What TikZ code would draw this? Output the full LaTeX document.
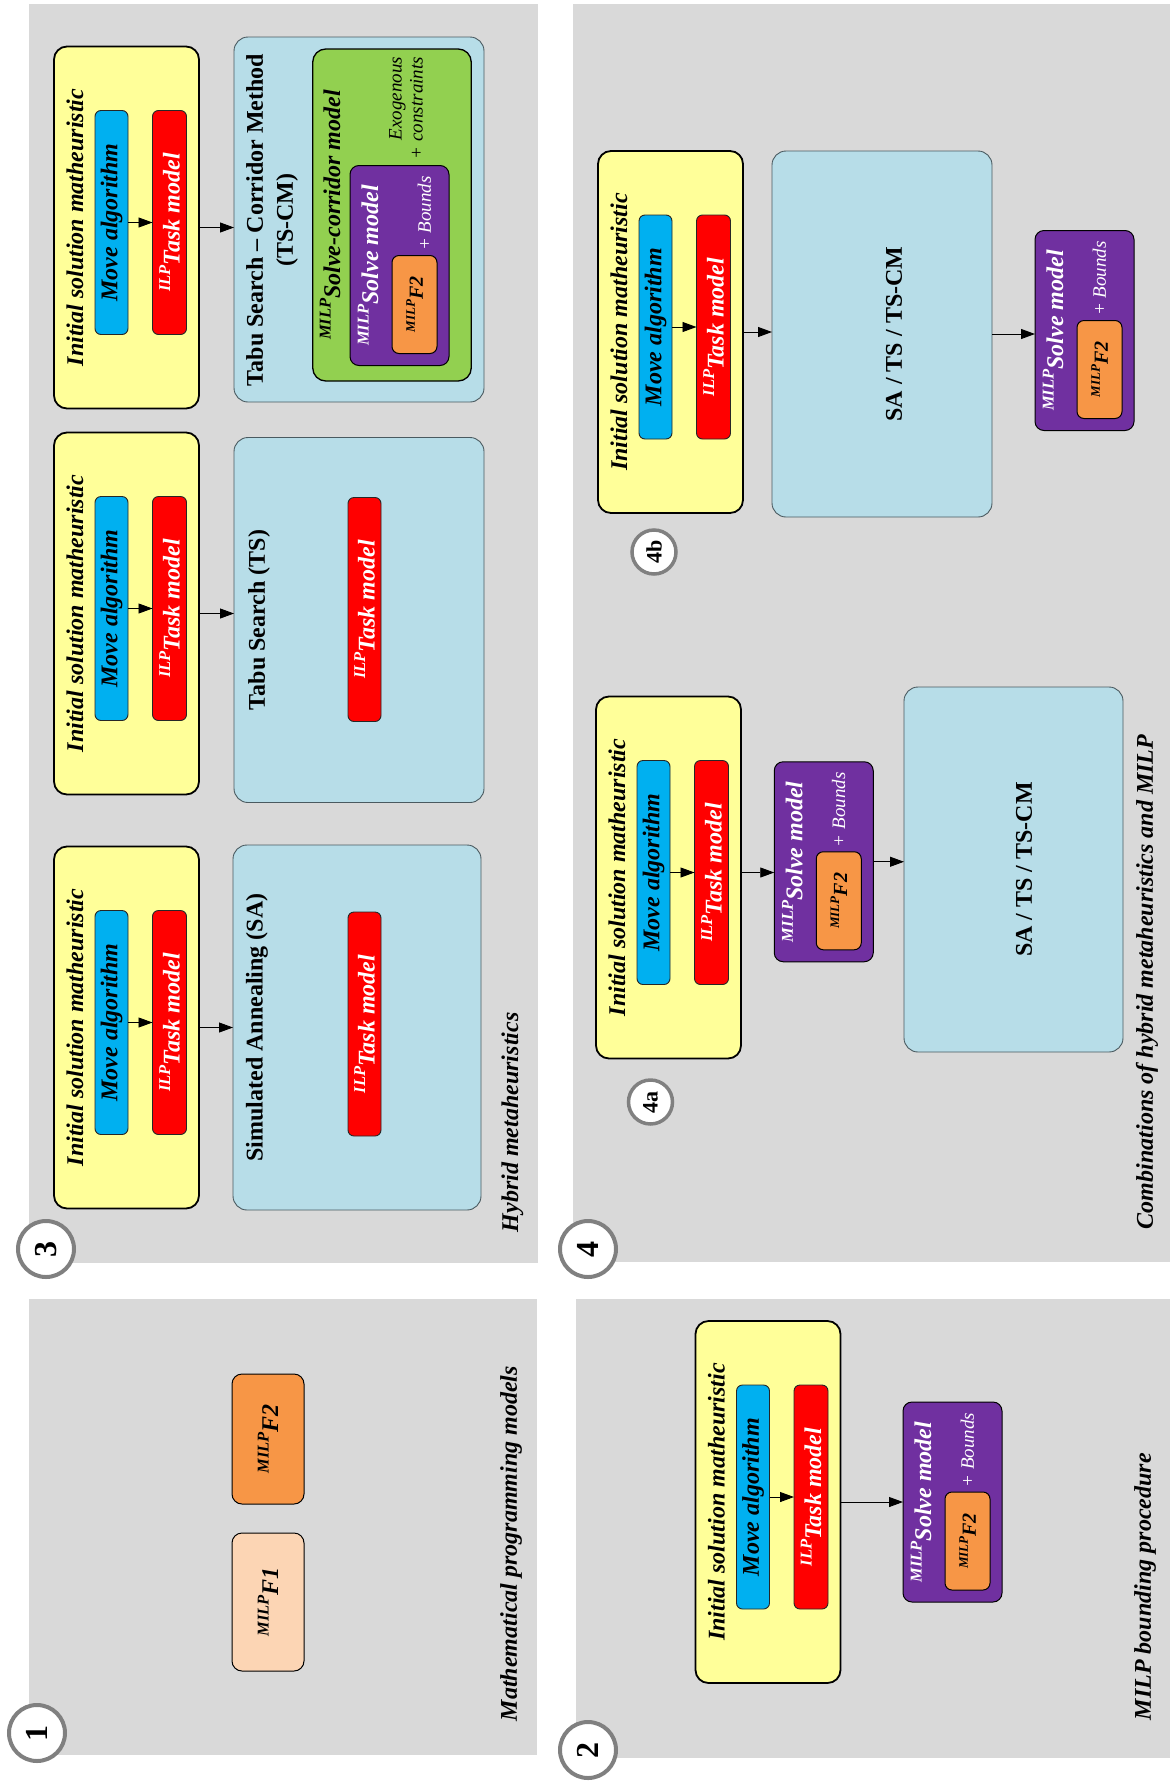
\documentclass[tikz,border=0pt]{standalone}
\usepackage{fontspec}
\setmainfont{Liberation Serif}
\usetikzlibrary{arrows.meta}

\definecolor{panelgray}{HTML}{D9D9D9}
\definecolor{boxyellow}{HTML}{FFFF99}
\definecolor{boxblue}{HTML}{00B0F0}
\definecolor{boxred}{HTML}{FF0000}
\definecolor{boxcyan}{HTML}{B7DDE8}
\definecolor{boxgreen}{HTML}{92D050}
\definecolor{boxpurple}{HTML}{7030A0}
\definecolor{boxorange}{HTML}{F79646}
\definecolor{boxpeach}{HTML}{FCD5B4}
\definecolor{ringgray}{HTML}{808080}
\definecolor{cyanedge}{HTML}{4A5A60}

% raised model-type prefixes (ILP, MILP)
\newcommand{\bigsup}[1]{\raisebox{9.5pt}{\fontsize{16.5}{16.5}\selectfont #1}}
\newcommand{\smallsup}[1]{\raisebox{8pt}{\fontsize{13}{13}\selectfont #1}}

\tikzset{
  turned/.style={rotate=90, inner sep=0pt, outer sep=0pt},
  dims/.style 2 args={minimum height=#1, minimum width=#2},
  panel/.style={fill=panelgray, draw=none, inner sep=0pt, outer sep=0pt, anchor=north west},
  bifont/.style={font=\fontsize{24}{28}\selectfont\bfseries\itshape},
  ybox/.style={turned, draw=black, line width=1.8pt, fill=boxyellow, rounded corners=13pt},
  bbox/.style={turned, bifont, draw=black!85, line width=0.9pt, fill=boxblue, rounded corners=6pt},
  rbox/.style={turned, bifont, text=white, draw=black!85, line width=0.9pt, fill=boxred, rounded corners=6pt},
  cbox/.style={turned, draw=cyanedge, line width=0.9pt, fill=boxcyan, rounded corners=14pt},
  gbox/.style={turned, draw=black, line width=1.3pt, fill=boxgreen, rounded corners=13pt},
  pbox/.style={turned, draw=black, line width=1pt, fill=boxpurple, rounded corners=9pt},
  obox/.style={turned, draw=black, line width=1pt, fill=boxorange, rounded corners=7pt,
    font=\fontsize{20}{24}\selectfont\bfseries\itshape},
  fbox/.style={turned, bifont, draw=black, line width=1pt, rounded corners=10pt},
  lbl/.style={turned, bifont},
  wlbl/.style={lbl, text=white},
  headtext/.style={turned, font=\fontsize{24}{30}\selectfont\bfseries, align=center},
  notetext/.style={turned, font=\fontsize{19}{21}\selectfont\itshape},
  capt/.style={lbl, anchor=west},
  ring/.style={circle, rotate=90, draw=ringgray, line width=4pt, fill=white,
    minimum size=56pt, inner sep=0pt, font=\fontsize{32}{32}\selectfont\bfseries},
  smallring/.style={ring, line width=3.5pt, minimum size=44pt,
    font=\fontsize{22}{22}\selectfont\bfseries},
  flow/.style={line width=0.9pt, -{Triangle[length=14pt,width=10pt]}},
}

% yellow initial-solution block: name, centre x, centre y
\newcommand{\initsol}[3]{%
  \begin{scope}[shift={(#2,#3)}]
    \node[ybox, dims={145}{362}] (#1) at (0,0) {};
    \node[lbl] (#1-t) at (-51.5,0) {Initial solution matheuristic};
    \node[bbox, dims={33}{224}] (#1-m) at (-15,-5) {Move algorithm};
    \node[rbox, dims={34}{224}] (#1-k) at (43,-5) {\bigsup{ILP}Task model};
    \draw[flow] (#1-m.south) -- (#1-k.north);
  \end{scope}}

% purple solve-model block with nested F2: name, centre x, centre y, x offset of "+ Bounds"
\newcommand{\solvemodel}[4]{%
  \begin{scope}[shift={(#2,#3)}]
    \node[pbox, dims={99}{200}] (#1) at (0,0) {};
    \node[wlbl] (#1-t) at (-31.5,0) {\bigsup{MILP}Solve model};
    \node[obox, dims={45}{98}] (#1-f) at (15,39) {\smallsup{MILP}F2};
    \node[notetext, text=white] (#1-b) at (#4,-52) {+ Bounds};
  \end{scope}}

\begin{document}
\begin{tikzpicture}[x=1pt, y=-1pt]
\useasboundingbox (0,0) rectangle (1170,1786);
\fill[white] (0,0) rectangle (1170,1786);

% ---------- panel backgrounds ----------
\node[panel, minimum width=509, minimum height=1259] (p3) at (29,4) {};
\node[panel, minimum width=597, minimum height=1258] (p4) at (573,4) {};
\node[panel, minimum width=508, minimum height=456] (p1) at (29,1299) {};
\node[panel, minimum width=594, minimum height=459] (p2) at (576,1299) {};

% ---------- panel 3: hybrid metaheuristics ----------
% TS-CM
\initsol{yc}{126.5}{227.5}
\node[cbox, dims={250}{365}] (cc) at (359,219.5) {};
\node[headtext] (cc-t) at (272,220) {Tabu Search \textendash{} Corridor Method\\(TS-CM)};
\node[gbox, dims={158.5}{332}] (gc) at (392,215) {};
\node[lbl] (gc-t) at (330,215) {\bigsup{MILP}Solve-corridor model};
\solvemodel{sc}{399.5}{265.5}{25}
\node[notetext, anchor=east, align=right] (gc-x) at (406,57) {Exogenous\\+ constraints};
\draw[flow] (yc.south) -- (yc.south -| cc.north);

% TS
\initsol{yb}{126.5}{613.5}
\node[cbox, dims={250}{365}] (cb) at (359,620) {};
\node[headtext] (cb-t) at (259,620) {Tabu Search (TS)};
\node[rbox, dims={33}{224}] (cb-k) at (364.5,609.5) {\bigsup{ILP}Task model};
\draw[flow] (yb.south) -- (yb.south -| cb.north);

% SA
\initsol{ya}{126.5}{1027.5}
\node[cbox, dims={248}{365}] (ca) at (357,1027.5) {};
\node[headtext] (ca-t) at (257,1027.5) {Simulated Annealing (SA)};
\node[rbox, dims={33}{224}] (ca-k) at (364.5,1024) {\bigsup{ILP}Task model};
\draw[flow] (ya.south) -- (ya.south -| ca.north);

\node[capt] (cap3) at (512.5,1232) {Hybrid metaheuristics};
\node[ring] (n3) at (46,1249) {3};

% ---------- panel 1: mathematical programming models ----------
\node[fbox, fill=boxorange, dims={72}{130}] (f2) at (268,1439) {\bigsup{MILP}F2};
\node[fbox, fill=boxpeach, dims={72}{138}] (f1) at (268,1602) {\bigsup{MILP}F1};
\node[capt] (cap1) at (511,1721) {Mathematical programming models};
\node[ring] (n1) at (37,1733) {1};

% ---------- panel 2: MILP bounding procedure ----------
\initsol{yd}{768}{1502}
\solvemodel{sd}{952.5}{1502}{15}
\draw[flow] (yd.south) -- (yd.south -| sd.north);
\node[capt] (cap2) at (1145,1720) {MILP bounding procedure};
\node[ring] (n2) at (588,1750) {2};

% ---------- panel 4: combinations ----------
% 4b
\initsol{yf}{670.5}{332}
\node[cbox, dims={220}{366}] (cf) at (882,334) {};
\node[headtext] (cf-t) at (894,334) {SA / TS / TS-CM};
\solvemodel{sf}{1084.5}{330.5}{15}
\draw[flow] (yf.south) -- (yf.south -| cf.north);
\draw[flow] (cf.south) -- (cf.south -| sf.north);
\node[smallring] (n4b) at (654,552) {4b};

% 4a
\initsol{ye}{668.5}{877.5}
\solvemodel{se}{823.75}{861.75}{15}
\node[cbox, dims={219}{365}] (ce) at (1013.5,869.5) {};
\node[headtext] (ce-t) at (1024,869.5) {SA / TS / TS-CM};
\draw[flow] (ye.south |- ye-m.center) -- (se.north |- ye-m.center);
\draw[flow] (se.south) -- (se.south -| ce.north);
\node[smallring] (n4a) at (650.5,1102) {4a};

\node[capt] (cap4) at (1147,1229) {Combinations of hybrid metaheuristics and MILP};
\node[ring] (n4) at (588,1249) {4};
\end{tikzpicture}
\end{document}
